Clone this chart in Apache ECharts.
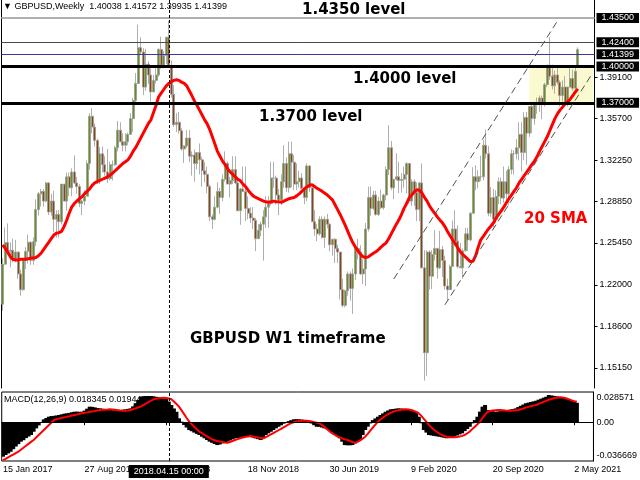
<!DOCTYPE html>
<html><head><meta charset="utf-8">
<script src="https://cdn.jsdelivr.net/npm/echarts@6/dist/echarts.min.js"></script>
<style>html,body{margin:0;padding:0;background:#fff}#c{width:640px;height:480px}</style>
</head><body><div id="c"></div>
<script>
// ---- data (weekly GBPUSD, first bar week of 15 Jan 2017) ----
const firstWeek = '2017-01-15';
const opens = [1.2040,1.2370,1.2548,1.2478,1.2485,1.2410,1.2470,1.2290,1.2160,1.2400,
1.2475,1.2550,1.2400,1.2555,1.2820,1.2950,1.2970,1.2890,1.3040,1.2800,
1.2890,1.2740,1.2780,1.2720,1.3030,1.2890,1.3090,1.3000,1.3130,1.3040,
1.3010,1.2870,1.2890,1.2930,1.3200,1.3590,1.3500,1.3390,1.3060,1.3280,
1.3190,1.3130,1.3075,1.3190,1.3190,1.3330,1.3475,1.3380,1.3350,1.3380,
1.3440,1.3570,1.3720,1.3860,1.4155,1.4120,1.3830,1.4020,1.3930,1.3790,
1.3885,1.3930,1.4140,1.4010,1.4090,1.4240,1.4010,1.3770,1.3520,1.3540,
1.3470,1.3320,1.3345,1.3410,1.3260,1.3270,1.3200,1.3290,1.3230,1.3140,
1.3110,1.3010,1.2760,1.2740,1.2840,1.2970,1.2920,1.3070,1.3200,1.3030,
1.3060,1.3150,1.3040,1.2810,1.2990,1.2970,1.2830,1.2790,1.2750,1.2730,
1.2580,1.2650,1.2700,1.2760,1.2840,1.2870,1.3080,1.3080,1.2940,1.2900,
1.3050,1.3200,1.3000,1.3280,1.3210,1.3030,1.3050,1.3080,1.2995,1.2920,
1.3180,1.3000,1.2720,1.2660,1.2620,1.2740,1.2590,1.2740,1.2700,1.2530,
1.2575,1.2500,1.2470,1.2160,1.2030,1.2150,1.2290,1.2170,1.2290,1.2500,
1.2470,1.2290,1.2330,1.2660,1.2920,1.2830,1.2940,1.2780,1.2890,1.2835,
1.2940,1.3150,1.3330,1.3000,1.3070,1.3090,1.3060,1.3070,1.3110,1.3200,
1.2890,1.3050,1.2960,1.2820,1.3040,1.2340,1.1640,1.2470,1.2270,1.2450,
1.2500,1.2340,1.2490,1.2400,1.2190,1.2160,1.2350,1.2660,1.2560,1.2350,
1.2340,1.2480,1.2620,1.2570,1.2790,1.3090,1.3050,1.3090,1.3090,1.3350,
1.3280,1.2790,1.2920,1.2740,1.2930,1.3050,1.2915,1.3050,1.2950,1.3150,
1.3280,1.3280,1.3330,1.3440,1.3290,1.3580,1.3450,1.3670,1.3570,1.3690,
1.3690,1.3740,1.3700,1.3850,1.4010,1.3920,1.3840,1.3930,1.3870,1.3760,
1.3830,1.3700,1.3830,1.3900,1.3820,1.40038];
const highs = [1.2418,1.2673,1.2706,1.2550,1.2580,1.2570,1.2475,1.2325,1.2410,1.2510,
1.2615,1.2560,1.2590,1.2905,1.2965,1.2990,1.2990,1.3048,1.3045,1.2950,
1.2975,1.2815,1.2815,1.3030,1.3030,1.3125,1.3125,1.3160,1.3267,1.3090,
1.3030,1.2900,1.2980,1.3225,1.3615,1.3657,1.3530,1.3405,1.3335,1.3340,
1.3260,1.3320,1.3215,1.3225,1.3345,1.3550,1.3540,1.3450,1.3450,1.3455,
1.3615,1.3740,1.3945,1.4345,1.4240,1.4150,1.4145,1.4045,1.3985,1.3930,
1.4000,1.4150,1.4245,1.4125,1.4245,1.4377,1.4050,1.3845,1.3615,1.3625,
1.3490,1.3350,1.3475,1.3475,1.3300,1.3315,1.3290,1.3365,1.3255,1.3210,
1.3175,1.3025,1.2780,1.2930,1.3045,1.3000,1.3110,1.3300,1.3215,1.3090,
1.3260,1.3260,1.3090,1.3000,1.3175,1.3175,1.2930,1.2840,1.2840,1.2750,
1.2700,1.2720,1.2815,1.2930,1.2930,1.3215,1.3215,1.3100,1.2990,1.3110,
1.3350,1.3250,1.3380,1.3380,1.3270,1.3200,1.3140,1.3120,1.3005,1.3200,
1.3185,1.3000,1.2815,1.2700,1.2765,1.2765,1.2765,1.2785,1.2705,1.2580,
1.2585,1.2530,1.2470,1.2250,1.2160,1.2310,1.2310,1.2335,1.2510,1.2580,
1.2525,1.2410,1.2710,1.3010,1.3010,1.2975,1.2975,1.2925,1.2985,1.2950,
1.3175,1.3515,1.3385,1.3070,1.3285,1.3215,1.3120,1.3175,1.3210,1.3205,
1.3070,1.3070,1.3045,1.3050,1.3200,1.2485,1.2485,1.2485,1.2485,1.2650,
1.2505,1.2645,1.2520,1.2440,1.2250,1.2365,1.2730,1.2815,1.2690,1.2545,
1.2500,1.2670,1.2670,1.2800,1.3170,1.3185,1.3145,1.3265,1.3395,1.3480,
1.3345,1.3005,1.2990,1.2980,1.3085,1.3085,1.3175,1.3140,1.3180,1.3315,
1.3310,1.3400,1.3540,1.3540,1.3625,1.3625,1.3670,1.3705,1.3710,1.3745,
1.3760,1.3760,1.3865,1.4010,1.4241,1.4015,1.3965,1.4000,1.3885,1.3885,
1.3920,1.3830,1.4010,1.3975,1.4000,1.41572];
const lows = [1.1986,1.2365,1.2445,1.2345,1.2385,1.2385,1.2250,1.2110,1.2150,1.2330,
1.2375,1.2365,1.2365,1.2520,1.2770,1.2845,1.2845,1.2880,1.2775,1.2770,
1.2635,1.2590,1.2590,1.2700,1.2890,1.2810,1.2930,1.2930,1.3030,1.2950,
1.2840,1.2775,1.2855,1.2930,1.3150,1.3450,1.3340,1.3030,1.3030,1.3125,
1.3100,1.3040,1.3060,1.3060,1.3180,1.3300,1.3375,1.3300,1.3300,1.3350,
1.3440,1.3460,1.3690,1.3855,1.4100,1.3765,1.3800,1.3855,1.3710,1.3790,
1.3860,1.3915,1.3980,1.3985,1.4020,1.3990,1.3745,1.3500,1.3460,1.3445,
1.3305,1.3205,1.3330,1.3210,1.3100,1.3050,1.3150,1.3110,1.3010,1.3045,
1.2955,1.2725,1.2660,1.2730,1.2830,1.2785,1.2890,1.3050,1.3030,1.2920,
1.3030,1.3030,1.2810,1.2695,1.2970,1.2725,1.2740,1.2710,1.2660,1.2478,
1.2580,1.2600,1.2400,1.2670,1.2670,1.2855,1.3000,1.2860,1.2775,1.2855,
1.3000,1.2965,1.2960,1.3005,1.2980,1.2980,1.3000,1.2990,1.2865,1.2890,
1.2965,1.2720,1.2605,1.2560,1.2605,1.2580,1.2505,1.2665,1.2475,1.2440,
1.2380,1.2380,1.2080,1.2015,1.2015,1.2110,1.2070,1.1960,1.2240,1.2410,
1.2280,1.2205,1.2190,1.2640,1.2770,1.2815,1.2770,1.2765,1.2825,1.2820,
1.2895,1.3105,1.2980,1.2905,1.3060,1.2955,1.2960,1.3000,1.2955,1.2870,
1.2850,1.2850,1.2725,1.2725,1.2335,1.1410,1.1450,1.2160,1.2165,1.2400,
1.2250,1.2330,1.2265,1.2160,1.2075,1.2160,1.2350,1.2520,1.2335,1.2340,
1.2250,1.2475,1.2480,1.2560,1.2785,1.2980,1.2995,1.3055,1.3060,1.3240,
1.2765,1.2760,1.2675,1.2710,1.2865,1.2865,1.2875,1.2855,1.2855,1.3110,
1.3110,1.3235,1.3225,1.3135,1.3230,1.3190,1.3420,1.3450,1.3520,1.3610,
1.3625,1.3565,1.3670,1.3830,1.3890,1.3810,1.3775,1.3850,1.3670,1.3710,
1.3670,1.3670,1.3825,1.3800,1.3800,1.39935];
const closes = [1.2370,1.2548,1.2478,1.2485,1.2410,1.2470,1.2290,1.2160,1.2400,1.2475,
1.2550,1.2400,1.2555,1.2820,1.2950,1.2970,1.2890,1.3040,1.2800,1.2890,
1.2740,1.2780,1.2720,1.3030,1.2890,1.3090,1.3000,1.3130,1.3040,1.3010,
1.2870,1.2890,1.2930,1.3200,1.3590,1.3500,1.3390,1.3060,1.3280,1.3190,
1.3130,1.3075,1.3190,1.3190,1.3330,1.3475,1.3380,1.3350,1.3380,1.3440,
1.3570,1.3720,1.3860,1.4155,1.4120,1.3830,1.4020,1.3930,1.3790,1.3885,
1.3930,1.4140,1.4010,1.4090,1.4240,1.4010,1.3770,1.3520,1.3540,1.3470,
1.3320,1.3345,1.3410,1.3260,1.3270,1.3200,1.3290,1.3230,1.3140,1.3110,
1.3010,1.2760,1.2740,1.2840,1.2970,1.2920,1.3070,1.3200,1.3030,1.3060,
1.3150,1.3040,1.2810,1.2990,1.2970,1.2830,1.2790,1.2750,1.2730,1.2580,
1.2650,1.2700,1.2760,1.2840,1.2870,1.3080,1.3080,1.2940,1.2900,1.3050,
1.3200,1.3000,1.3280,1.3210,1.3030,1.3050,1.3080,1.2995,1.2920,1.3180,
1.3000,1.2720,1.2660,1.2620,1.2740,1.2590,1.2740,1.2700,1.2530,1.2575,
1.2500,1.2470,1.2160,1.2030,1.2150,1.2290,1.2170,1.2290,1.2500,1.2470,
1.2290,1.2330,1.2660,1.2920,1.2830,1.2940,1.2780,1.2890,1.2835,1.2940,
1.3150,1.3330,1.3000,1.3070,1.3090,1.3060,1.3070,1.3110,1.3200,1.2890,
1.3050,1.2960,1.2820,1.3040,1.2340,1.1640,1.2470,1.2270,1.2450,1.2500,
1.2340,1.2490,1.2400,1.2190,1.2160,1.2350,1.2660,1.2560,1.2350,1.2340,
1.2480,1.2620,1.2570,1.2790,1.3090,1.3050,1.3090,1.3090,1.3350,1.3280,
1.2790,1.2920,1.2740,1.2930,1.3050,1.2915,1.3050,1.2950,1.3150,1.3280,
1.3280,1.3330,1.3440,1.3290,1.3580,1.3450,1.3670,1.3570,1.3690,1.3690,
1.3740,1.3700,1.3850,1.4010,1.3920,1.3840,1.3930,1.3870,1.3760,1.3830,
1.3700,1.3830,1.3900,1.3820,1.3960,1.41399];
const sma20 = [1.253,1.250,1.247,1.243,1.241,1.2405,1.2405,1.241,1.241,1.241,
1.2415,1.242,1.242,1.2425,1.244,1.246,1.249,1.252,1.255,1.258,
1.261,1.2625,1.263,1.264,1.268,1.273,1.279,1.284,1.287,1.289,
1.291,1.2925,1.295,1.297,1.299,1.302,1.304,1.305,1.306,1.307,
1.308,1.309,1.3105,1.312,1.314,1.316,1.318,1.320,1.3215,1.323,
1.326,1.330,1.333,1.337,1.341,1.345,1.349,1.353,1.356,1.362,
1.368,1.375,1.378,1.381,1.384,1.386,1.3875,1.3885,1.389,1.3885,
1.387,1.386,1.384,1.380,1.376,1.3716,1.368,1.364,1.360,1.356,
1.3527,1.348,1.342,1.336,1.330,1.326,1.322,1.319,1.3156,1.313,
1.311,1.309,1.307,1.3057,1.303,1.301,1.298,1.2955,1.2933,1.292,
1.291,1.290,1.289,1.2884,1.288,1.2885,1.289,1.2885,1.2884,1.288,
1.289,1.290,1.291,1.2915,1.292,1.2933,1.295,1.297,1.299,1.3008,
1.302,1.3024,1.301,1.2995,1.2983,1.297,1.2955,1.294,1.292,1.290,
1.286,1.282,1.278,1.2736,1.269,1.264,1.259,1.2546,1.251,1.248,
1.245,1.2431,1.2425,1.243,1.2445,1.246,1.2472,1.249,1.251,1.253,
1.2546,1.258,1.262,1.266,1.270,1.2736,1.278,1.283,1.287,1.2917,
1.294,1.2965,1.2983,1.298,1.2958,1.292,1.289,1.285,1.2818,1.279,
1.276,1.2735,1.2711,1.268,1.264,1.2605,1.2571,1.254,1.2505,1.2472,
1.245,1.243,1.241,1.239,1.2395,1.244,1.251,1.2571,1.260,1.263,
1.266,1.2685,1.2711,1.275,1.278,1.281,1.284,1.2876,1.291,1.294,
1.297,1.300,1.304,1.307,1.310,1.313,1.316,1.319,1.322,1.3255,
1.330,1.334,1.338,1.342,1.347,1.352,1.357,1.3609,1.364,1.3665,
1.369,1.3708,1.373,1.376,1.379,1.3815];
const macdMain = [-0.0326,-0.0310,-0.0295,-0.0279,-0.0255,-0.0230,-0.0207,-0.0184,-0.0170,-0.0150,
-0.0135,-0.0121,-0.0090,-0.0058,-0.0030,0.0000,0.0027,0.0040,0.0052,0.0058,
0.0060,0.0064,0.0068,0.0074,0.0080,0.0084,0.0088,0.0094,0.0099,0.0100,
0.0098,0.0099,0.0110,0.0128,0.0147,0.0145,0.0140,0.0134,0.0131,0.0127,
0.0122,0.0118,0.0115,0.0113,0.0114,0.0117,0.0115,0.0118,0.0122,0.0126,
0.0131,0.0150,0.0180,0.0210,0.0241,0.0244,0.0247,0.0248,0.0248,0.0245,
0.0240,0.0238,0.0235,0.0230,0.0226,0.0195,0.0163,0.0130,0.0099,0.0037,
0.0005,-0.0026,-0.0050,-0.0074,-0.0085,-0.0098,-0.0110,-0.0121,-0.0137,-0.0152,
-0.0168,-0.0184,-0.0195,-0.0206,-0.0216,-0.0210,-0.0200,-0.0192,-0.0184,-0.0173,
-0.0162,-0.0152,-0.0150,-0.0147,-0.0143,-0.0140,-0.0138,-0.0137,-0.0145,-0.0153,
-0.0160,-0.0168,-0.0145,-0.0121,-0.0105,-0.0090,-0.0074,-0.0058,-0.0043,-0.0029,
-0.0014,0.0000,0.0010,0.0019,0.0027,0.0028,0.0027,0.0025,0.0022,0.0020,
0.0004,-0.0012,-0.0028,-0.0043,-0.0043,-0.0050,-0.0058,-0.0066,-0.0074,-0.0094,
-0.0113,-0.0132,-0.0152,-0.0184,-0.0216,-0.0218,-0.0218,-0.0216,-0.0200,-0.0184,
-0.0168,-0.0121,-0.0074,-0.0042,-0.0011,0.0020,0.0036,0.0052,0.0068,0.0083,
0.0099,0.0111,0.0122,0.0125,0.0128,0.0131,0.0129,0.0127,0.0125,0.0122,
0.0114,0.0107,0.0099,0.0052,-0.0010,-0.0074,-0.0098,-0.0121,-0.0125,-0.0129,
-0.0133,-0.0137,-0.0142,-0.0147,-0.0152,-0.0149,-0.0145,-0.0135,-0.0125,-0.0115,
-0.0105,-0.0084,-0.0064,-0.0043,-0.0011,0.0020,0.0052,0.0100,0.0147,0.0163,
0.0115,0.0110,0.0104,0.0099,0.0101,0.0104,0.0106,0.0108,0.0114,0.0120,
0.0125,0.0131,0.0143,0.0155,0.0167,0.0179,0.0185,0.0191,0.0197,0.0203,
0.0213,0.0222,0.0232,0.0241,0.0257,0.0253,0.0249,0.0245,0.0241,0.0233,
0.0226,0.0218,0.0210,0.0201,0.0192,0.018345];
const macdSignal = [-0.0359,-0.0346,-0.0332,-0.0319,-0.0306,-0.0292,-0.0279,-0.0260,-0.0242,-0.0223,
-0.0205,-0.0186,-0.0168,-0.0145,-0.0121,-0.0098,-0.0074,-0.0050,-0.0026,-0.0002,
0.0021,0.0028,0.0034,0.0040,0.0046,0.0052,0.0057,0.0063,0.0068,0.0073,
0.0079,0.0084,0.0089,0.0093,0.0098,0.0102,0.0106,0.0111,0.0115,0.0117,
0.0119,0.0120,0.0122,0.0120,0.0117,0.0114,0.0111,0.0109,0.0108,0.0110,
0.0115,0.0123,0.0131,0.0139,0.0147,0.0161,0.0175,0.0189,0.0203,0.0217,
0.0222,0.0226,0.0229,0.0232,0.0229,0.0224,0.0217,0.0195,0.0172,0.0147,
0.0112,0.0076,0.0040,0.0005,-0.0019,-0.0043,-0.0067,-0.0090,-0.0104,-0.0119,
-0.0133,-0.0148,-0.0162,-0.0170,-0.0178,-0.0183,-0.0188,-0.0192,-0.0194,-0.0187,
-0.0178,-0.0168,-0.0160,-0.0152,-0.0145,-0.0139,-0.0134,-0.0131,-0.0134,-0.0139,
-0.0144,-0.0149,-0.0152,-0.0142,-0.0129,-0.0116,-0.0103,-0.0090,-0.0076,-0.0062,
-0.0048,-0.0034,-0.0021,-0.0009,0.0000,0.0006,0.0010,0.0013,0.0014,0.0014,
0.0011,0.0006,0.0001,-0.0004,-0.0010,-0.0025,-0.0044,-0.0064,-0.0085,-0.0105,
-0.0118,-0.0131,-0.0143,-0.0154,-0.0162,-0.0168,-0.0178,-0.0187,-0.0194,-0.0186,
-0.0172,-0.0156,-0.0137,-0.0110,-0.0080,-0.0050,-0.0022,0.0005,0.0025,0.0044,
0.0061,0.0076,0.0089,0.0099,0.0107,0.0113,0.0117,0.0120,0.0122,0.0121,
0.0116,0.0108,0.0097,0.0084,0.0060,0.0032,0.0003,-0.0026,-0.0049,-0.0071,
-0.0090,-0.0106,-0.0121,-0.0130,-0.0137,-0.0141,-0.0143,-0.0143,-0.0140,-0.0135,
-0.0129,-0.0121,-0.0106,-0.0087,-0.0065,-0.0042,-0.0019,0.0005,0.0040,0.0072,
0.0099,0.0106,0.0110,0.0113,0.0115,0.0115,0.0113,0.0110,0.0108,0.0109,
0.0111,0.0113,0.0115,0.0122,0.0130,0.0138,0.0145,0.0151,0.0157,0.0163,
0.0173,0.0183,0.0193,0.0203,0.0212,0.0220,0.0226,0.0231,0.0234,0.0235,
0.0231,0.0225,0.0216,0.0206,0.0199,0.0194];
const priceTicks = [1.391, 1.357, 1.3225, 1.2885, 1.2545, 1.22, 1.186, 1.1515];
const levelPrices = [1.435, 1.424, 1.41399, 1.40, 1.37];
const zonePrices = [1.37, 1.40];
const zoneBars = [206, 231];
const channelUpper = [[153, 1.2248], [217, 1.4375]];
const channelLower = [[173, 1.2035], [230, 1.3921]];
const markerBar = 65;
const macdTicks = [0.028571, 0, -0.036669];
const monthNames = ['Jan','Feb','Mar','Apr','May','Jun','Jul','Aug','Sep','Oct','Nov','Dec'];
const headerText = '\u25BC GBPUSD,Weekly  1.40038 1.41572 1.39935 1.41399';
const macdText = 'MACD(12,26,9) 0.018345 0.019443';

// ---- build ----
const N_CAT = 232;
const cats = [];
const t0 = Date.UTC(2017, 0, 15);
for (let i = 0; i < N_CAT; i++) {
  const d = new Date(t0 + i * 7 * 864e5);
  cats.push(d.getUTCFullYear() + '.' + String(d.getUTCMonth() + 1).padStart(2, '0') + '.' + String(d.getUTCDate()).padStart(2, '0'));
}
const candles = opens.map((o, i) => [o, closes[i], lows[i], highs[i]]);
const fmtDate = v => { const p = v.split('.'); return (+p[2]) + ' ' + monthNames[+p[1] - 1] + ' ' + p[0]; };
const labelEvery = (i) => i % 32 === 0 && i <= 224;

const Y_MAX = 1.45479, Y_MIN = 1.13492;
const GL = 1.4, GR = 45.5;
const numFont = 'Liberation Sans';
const boldFont = 'DejaVu Sans';

const levelStyles = [
  {color:'#b0b0b0', width:2},
  {color:'#4a4a4a', width:1},
  {color:'#3a3a96', width:1},
  {color:'#000000', width:3},
  {color:'#000000', width:3}
];
const boxLabel = txt => ({show:true, position:'end', distance:2, backgroundColor:'#000', color:'#fff',
  fontFamily:numFont, fontSize:9, lineHeight:10, padding:[0,5,0,5], formatter: txt});

const mainMarks = levelPrices.map((v, i) => ({yAxis: v, lineStyle: Object.assign({type:'solid'}, levelStyles[i]), label: boxLabel(v.toFixed(5))}));
mainMarks.push({xAxis: cats[markerBar], lineStyle:{color:'#000', width:1, type:[3,2]}, label:{show:false}});
const chanStyle = {color:'#505050', width:1, type:[7,4]};
mainMarks.push([{coord:[cats[channelUpper[0][0]], channelUpper[0][1]], lineStyle:chanStyle, label:{show:false}}, {coord:[cats[channelUpper[1][0]], channelUpper[1][1]]}]);
mainMarks.push([{coord:[cats[channelLower[0][0]], channelLower[0][1]], lineStyle:chanStyle, label:{show:false}}, {coord:[cats[channelLower[1][0]], channelLower[1][1]]}]);

const bigText = (text, left, top, color) => ({text, left, top, padding:0, z:8,
  textStyle:{fontFamily:boldFont, fontWeight:'bold', fontSize:15, color: color || '#000'}});

const option = {
  animation: false,
  backgroundColor: '#fff',
  textStyle: {fontFamily: numFont},
  title: [
    {text: headerText, left: 3, top: 2, padding: 0, z: 8, textStyle:{fontFamily:numFont, fontWeight:'normal', fontSize:9, color:'#000'}},
    {text: macdText, left: 4, top: 395, padding: 0, z: 0, textStyle:{fontFamily:numFont, fontWeight:'normal', fontSize:9, color:'#000'}},
    bigText('1.4350 level', 302, 3),
    bigText('1.4000 level', 353, 72),
    bigText('1.3700 level', 259, 110),
    bigText('20 SMA', 524, 212, '#ff0000'),
    bigText('GBPUSD W1 timeframe', 190, 332)
  ],
  grid: [
    {left: GL, right: GR, top: 0, height: 388},
    {left: GL, right: GR, top: 392, height: 69, show: true, borderColor: '#000', borderWidth: 1, backgroundColor: 'transparent'}
  ],
  xAxis: [
    {type:'category', gridIndex:0, data: cats, boundaryGap: true,
      axisLine:{show:false}, axisTick:{show:false}, axisLabel:{show:false}, splitLine:{show:false}},
    {type:'category', gridIndex:1, data: cats, boundaryGap: true,
      axisLine:{show:true, lineStyle:{color:'#000', width:1}},
      axisTick:{show:true, alignWithLabel:true, interval: labelEvery, length:3, lineStyle:{color:'#000'}},
      axisLabel:{interval: labelEvery, formatter: fmtDate, align:'left', margin:4, fontSize:9, color:'#000', fontFamily:numFont},
      splitLine:{show:false}}
  ],
  yAxis: [
    {type:'value', gridIndex:0, position:'right', min:Y_MIN, max:Y_MAX,
      splitLine:{show:false},
      axisLine:{show:true, lineStyle:{color:'#000', width:1}},
      axisTick:{show:true, customValues: priceTicks, length:3, lineStyle:{color:'#000'}},
      axisLabel:{customValues: priceTicks, formatter: v => v.toFixed(5), margin:5, fontSize:9, color:'#000', fontFamily:numFont}},
    {type:'value', gridIndex:0, position:'left', min:Y_MIN, max:Y_MAX,
      splitLine:{show:false}, axisLine:{show:true, lineStyle:{color:'#000', width:1}},
      axisTick:{show:false}, axisLabel:{show:false}},
    {type:'value', gridIndex:1, position:'right', min: macdTicks[2], max: macdTicks[0],
      splitLine:{show:false}, axisLine:{show:true, lineStyle:{color:'#000'}}, axisTick:{show:false},
      axisLabel:{customValues: macdTicks, margin:3, fontFamily:numFont,
        formatter: v => { const s = v === 0 ? '0.00' : v.toFixed(6); return v > 0 ? '{t|' + s + '}' : (v < 0 ? '{b|' + s + '}' : '{m|' + s + '}'); },
        rich: {t:{fontSize:9, color:'#000', fontFamily:numFont, padding:[11,0,0,0]},
               b:{fontSize:9, color:'#000', fontFamily:numFont, padding:[0,0,11,0]},
               m:{fontSize:9, color:'#000', fontFamily:numFont}}}}
  ],
  series: [
    {type:'line', xAxisIndex:0, yAxisIndex:0, data:[], z:1, silent:true,
      markArea:{silent:true, itemStyle:{color:'#fbf9cf'},
        data:[[{xAxis: cats[zoneBars[0]], yAxis: zonePrices[0]}, {xAxis: cats[zoneBars[1]], yAxis: zonePrices[1]}]]}},
    {type:'candlestick', xAxisIndex:0, yAxisIndex:0, data: candles, barWidth: 2.5, z:3,
      itemStyle:{color:'#6b8e23', color0:'#8b4513', borderColor:'#9a9a9a', borderColor0:'#9a9a9a', borderWidth:0.8},
      markLine:{symbol:'none', silent:true, animation:false, data: mainMarks}},
    {type:'line', xAxisIndex:0, yAxisIndex:0, data: sma20, showSymbol:false, z:4,
      lineStyle:{color:'#ff0000', width:3}},
    {type:'bar', xAxisIndex:1, yAxisIndex:2, data: macdMain, barWidth: 4, z:2,
      itemStyle:{color:'#000'},
      markLine:{symbol:'none', silent:true, animation:false, data:[
        {yAxis:0, lineStyle:{color:'#000', width:1, type:'solid'}, label:{show:false}},
        {xAxis: cats[markerBar], lineStyle:{color:'#000', width:1, type:[3,2]},
          label:{show:true, position:'start', distance:4, formatter: cats[markerBar] + ' 00:00',
            backgroundColor:'#000', color:'#fff', fontFamily:numFont, fontSize:9, padding:[2,5,2,5]}}
      ]}},
    {type:'line', xAxisIndex:1, yAxisIndex:2, data: macdSignal, showSymbol:false, z:3,
      lineStyle:{color:'#ff0000', width:2}}
  ]
};
const chart = echarts.init(document.getElementById('c'), null, {renderer:'canvas'});
chart.setOption(option);
</script>
</body></html>
